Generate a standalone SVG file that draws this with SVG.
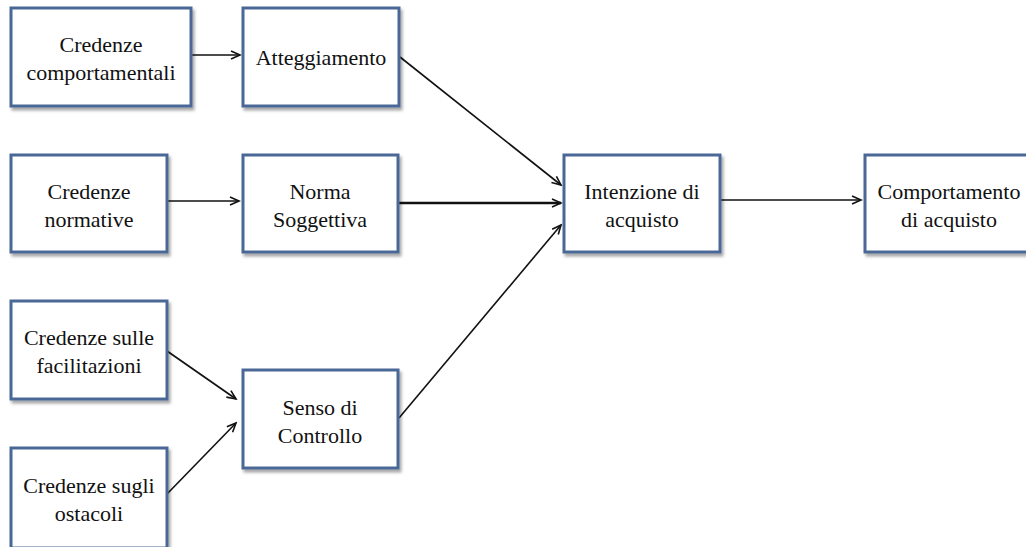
<svg xmlns="http://www.w3.org/2000/svg" width="1026" height="547" viewBox="0 0 1026 547">
<style>
.box{fill:#fff;stroke:#4a6896;stroke-width:3;filter:url(#sh)}
.t{font-family:"Liberation Serif",serif;font-size:22px;fill:#111;text-anchor:middle}
.c{stroke:#111;stroke-width:1.6;fill:none;marker-end:url(#ah)}
</style>
<defs>
<filter id="sh" x="-10%" y="-10%" width="125%" height="130%">
<feDropShadow dx="2" dy="3" stdDeviation="1.5" flood-color="#000" flood-opacity="0.35"/>
</filter>
<marker id="ah" markerWidth="12" markerHeight="10" refX="10" refY="5" orient="auto" markerUnits="userSpaceOnUse">
<path d="M1,1 L10,5 L1,9" fill="none" stroke="#111" stroke-width="1.6"/>
</marker>
</defs>
<rect width="1026" height="547" fill="#fff"/>
<g id="connectors">
<line class="c" x1="192" y1="55" x2="240" y2="55"/>
<line class="c" x1="400" y1="57" x2="561" y2="185"/>
<line class="c" x1="168" y1="201" x2="239" y2="201"/>
<line class="c" x1="399" y1="203" x2="561" y2="203" style="stroke-width:2.4"/>
<line class="c" x1="721" y1="200" x2="861" y2="200"/>
<line class="c" x1="167" y1="351" x2="236" y2="399"/>
<line class="c" x1="167" y1="494" x2="236" y2="423"/>
<line class="c" x1="399" y1="418" x2="561" y2="225"/>
</g>
<g id="n1"><rect class="box" x="11" y="8" width="180" height="98"/><text class="t" x="101" y="52">Credenze</text><text class="t" x="101" y="80">comportamentali</text></g>
<g id="n2"><rect class="box" x="243" y="8" width="156" height="98"/><text class="t" x="321" y="65">Atteggiamento</text></g>
<g id="n3"><rect class="box" x="11" y="155" width="156" height="97"/><text class="t" x="89" y="199">Credenze</text><text class="t" x="89" y="227">normative</text></g>
<g id="n4"><rect class="box" x="243" y="155" width="155" height="97"/><text class="t" x="320" y="199">Norma</text><text class="t" x="320" y="227">Soggettiva</text></g>
<g id="n5"><rect class="box" x="564" y="155" width="156" height="97"/><text class="t" x="642" y="199">Intenzione di</text><text class="t" x="642" y="227">acquisto</text></g>
<g id="n6"><rect class="box" x="865" y="155" width="165" height="97"/><text class="t" x="949" y="199">Comportamento</text><text class="t" x="949" y="227">di acquisto</text></g>
<g id="n7"><rect class="box" x="11" y="301" width="156" height="98"/><text class="t" x="89" y="345">Credenze sulle</text><text class="t" x="89" y="373">facilitazioni</text></g>
<g id="n8"><rect class="box" x="243" y="370" width="155" height="98"/><text class="t" x="320" y="415">Senso di</text><text class="t" x="320" y="443">Controllo</text></g>
<g id="n9"><rect class="box" x="11" y="448" width="156" height="100"/><text class="t" x="89" y="493">Credenze sugli</text><text class="t" x="89" y="521">ostacoli</text></g>
</svg>
